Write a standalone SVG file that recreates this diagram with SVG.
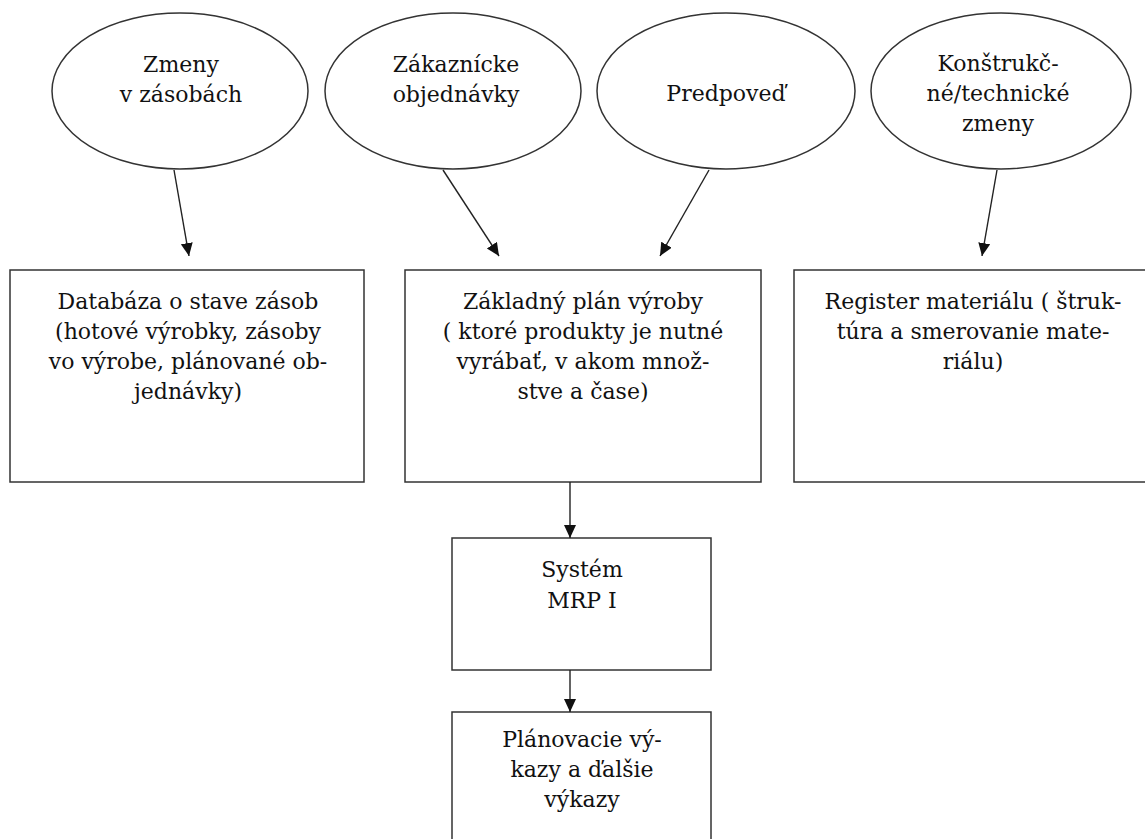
<svg xmlns="http://www.w3.org/2000/svg" width="1145" height="839" viewBox="0 0 1145 839">
<style>
  .shape { fill: #ffffff; stroke: #333333; stroke-width: 1.5; }
  .conn { stroke: #222222; stroke-width: 1.4; fill: none; marker-end: url(#arrow); }
  .t { font-family: 'DejaVu Serif', 'Liberation Serif', serif; font-size: 22px; fill: #111111; text-anchor: middle; }
</style>
<defs>
  <marker id="arrow" markerUnits="userSpaceOnUse" markerWidth="14" markerHeight="14" refX="13" refY="6" orient="auto">
    <path d="M0,0 L13,6 L0,12 z" fill="#111111"/>
  </marker>
</defs>
<rect width="1145" height="839" fill="#ffffff"/>

<g id="ellipse-zmeny">
  <ellipse class="shape" cx="180" cy="91" rx="128" ry="78"/>
  <text class="t" x="181" y="72">Zmeny</text>
  <text class="t" x="181" y="102">v zásobách</text>
</g>
<g id="ellipse-zakaznicke">
  <ellipse class="shape" cx="453" cy="91" rx="128" ry="78"/>
  <text class="t" x="456" y="72">Zákaznícke</text>
  <text class="t" x="456" y="102">objednávky</text>
</g>
<g id="ellipse-predpoved">
  <ellipse class="shape" cx="726" cy="91" rx="129" ry="78"/>
  <text class="t" x="726" y="101">Predpoveď</text>
</g>
<g id="ellipse-konstrukcne">
  <ellipse class="shape" cx="1001" cy="91" rx="130" ry="78"/>
  <text class="t" x="998" y="71">Konštrukč-</text>
  <text class="t" x="998" y="101">né/technické</text>
  <text class="t" x="998" y="131">zmeny</text>
</g>

<g id="box-databaza">
  <rect class="shape" x="10" y="270" width="354" height="212"/>
  <text class="t" x="188" y="309">Databáza o stave zásob</text>
  <text class="t" x="188" y="339">(hotové výrobky, zásoby</text>
  <text class="t" x="188" y="369">vo výrobe, plánované ob-</text>
  <text class="t" x="188" y="399">jednávky)</text>
</g>
<g id="box-zakladny-plan">
  <rect class="shape" x="405" y="270" width="356" height="212"/>
  <text class="t" x="583" y="309">Základný plán výroby</text>
  <text class="t" x="583" y="339">( ktoré produkty je nutné</text>
  <text class="t" x="583" y="369">vyrábať, v akom množ-</text>
  <text class="t" x="583" y="399">stve a čase)</text>
</g>
<g id="box-register">
  <rect class="shape" x="794" y="270" width="358" height="212"/>
  <text class="t" x="973" y="309">Register materiálu ( štruk-</text>
  <text class="t" x="973" y="339">túra a smerovanie mate-</text>
  <text class="t" x="973" y="369">riálu)</text>
</g>
<g id="box-mrp">
  <rect class="shape" x="452" y="538" width="259" height="132"/>
  <text class="t" x="582" y="577">Systém</text>
  <text class="t" x="582" y="608">MRP I</text>
</g>
<g id="box-planovacie">
  <rect class="shape" x="452" y="712" width="259" height="140"/>
  <text class="t" x="582" y="747">Plánovacie vý-</text>
  <text class="t" x="582" y="777">kazy a ďalšie</text>
  <text class="t" x="582" y="807">výkazy</text>
</g>

<g id="connectors">
  <line class="conn" x1="174" y1="170" x2="189" y2="256"/>
  <line class="conn" x1="443" y1="170" x2="499" y2="256"/>
  <line class="conn" x1="709" y1="170" x2="660" y2="256"/>
  <line class="conn" x1="997" y1="170" x2="982" y2="256"/>
  <line class="conn" x1="570" y1="482" x2="570" y2="538"/>
  <line class="conn" x1="570" y1="670" x2="570" y2="712"/>
</g>
</svg>
